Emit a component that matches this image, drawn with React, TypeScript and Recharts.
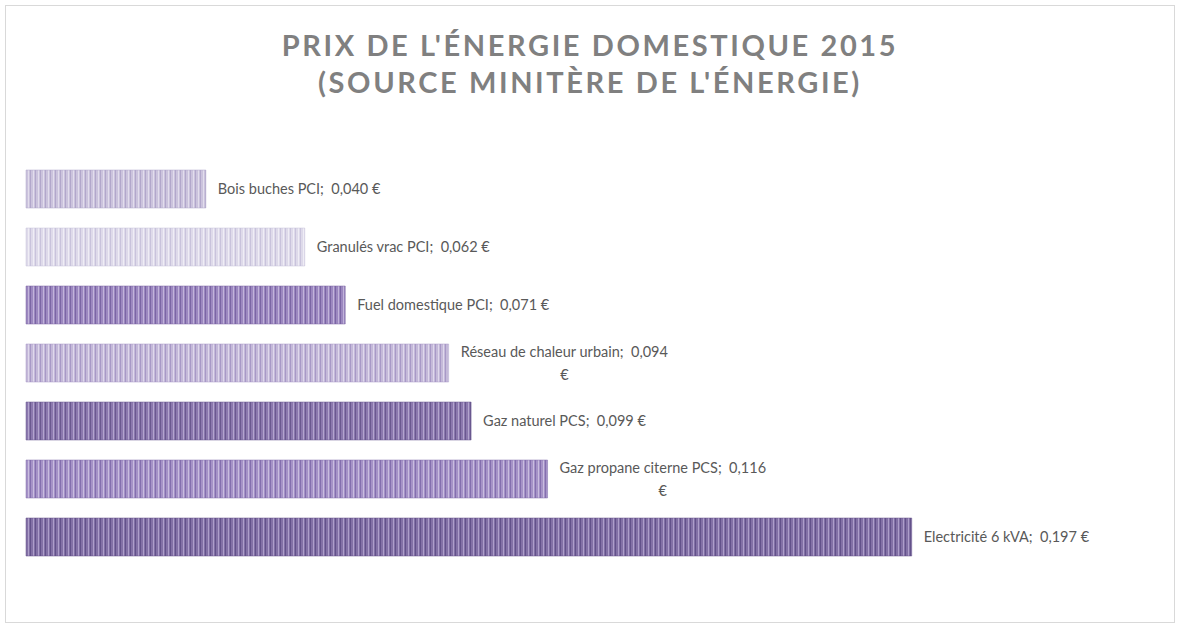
import { Bar, BarChart, Cell, LabelList, XAxis, YAxis } from 'recharts';

const categories = [
  'Bois buches PCI',
  'Granulés vrac PCI',
  'Fuel domestique PCI',
  'Réseau de chaleur urbain',
  'Gaz naturel PCS',
  'Gaz propane citerne PCS',
  'Electricité 6 kVA'
];
const prices = [0.04, 0.062, 0.071, 0.094, 0.099, 0.116, 0.197];

// base / dark stripe / light stripe for each bar
const palettes = [
  ['#cbc3dd', '#b2a7cb', '#e2ddec'],
  ['#dedaea', '#c9c3dc', '#efedf5'],
  ['#9c88c0', '#7b66a4', '#c2b4da'],
  ['#c4b9d9', '#a899c7', '#dfd8ec'],
  ['#8b78ae', '#6a588f', '#b3a5ce'],
  ['#a592c7', '#846fae', '#c9bddf'],
  ['#8371a6', '#63528a', '#ae9fca']
];

const LABEL_SIZE = 14.5;
const MAX_LINE = 205;

const chartData = categories.map((name, i) => ({
  name,
  price: prices[i],
  label: `${name};  ${prices[i].toFixed(3).replace('.', ',')} €`
}));

let ctx: CanvasRenderingContext2D | null = null;
function measure(text: string) {
  if (!ctx) ctx = document.createElement('canvas').getContext('2d');
  if (!ctx) return text.length * 6.6;
  ctx.font = `${LABEL_SIZE}px Lato`;
  return ctx.measureText(text).width;
}

// Excel pushed the trailing "€" to a second line when the label got too wide
function wrap(text: string) {
  if (measure(text) <= MAX_LINE) return [text];
  const cut = text.lastIndexOf(' ');
  return [text.slice(0, cut), text.slice(cut + 1)];
}

function BarLabel(props: any) {
  const { x, y, width, height, value } = props;
  const lines = wrap(String(value));
  const startX = x + width + 12;
  const blockW = Math.max(...lines.map(measure));
  const cy = y + height / 2;
  const lh = 23;
  const top = cy - ((lines.length - 1) * lh) / 2;
  return (
    <text fill="#595959" fontFamily="Lato, sans-serif" fontSize={LABEL_SIZE} style={{ whiteSpace: 'pre' }}>
      {lines.map((l, i) => (
        <tspan
          key={i}
          x={lines.length > 1 ? startX + blockW / 2 : startX}
          y={top + i * lh}
          dy="0.35em"
          textAnchor={lines.length > 1 ? 'middle' : 'start'}
        >
          {l}
        </tspan>
      ))}
    </text>
  );
}

export default function App() {
  return (
    <div style={{ position: 'relative', width: 1180, height: 628, background: '#fff' }}>
      <style>{'body{margin:0}'}</style>
      <div
        style={{
          position: 'absolute',
          left: 5,
          top: 5,
          width: 1168,
          height: 616,
          border: '1px solid #d9d9d9'
        }}
      />
      <div
        style={{
          position: 'absolute',
          left: 0,
          top: 26,
          width: 1180,
          textAlign: 'center',
          fontFamily: 'Lato, sans-serif',
          fontWeight: 700,
          fontSize: 29,
          lineHeight: '37px',
          letterSpacing: 2.6,
          color: '#808080'
        }}
      >
        PRIX DE L'ÉNERGIE DOMESTIQUE 2015
        <br />
        (SOURCE MINITÈRE DE L'ÉNERGIE)
      </div>
      <BarChart
        width={1180}
        height={628}
        data={chartData}
        layout="vertical"
        margin={{ top: 160, right: 30, bottom: 62, left: 26 }}
        barCategoryGap={10}
        style={{ position: 'absolute', left: 0, top: 0 }}
      >
        <defs>
          {palettes.map(([base, dark, light], i) => (
            <pattern key={i} id={`stripes-${i}`} width={5} height={8} patternUnits="userSpaceOnUse">
              <rect width={5} height={8} fill={base} />
              <rect x={0} width={1} height={8} fill={dark} />
              <rect x={3} width={1} height={8} fill={light} />
            </pattern>
          ))}
        </defs>
        <XAxis type="number" domain={[0, 0.25]} hide />
        <YAxis type="category" dataKey="name" hide />
        <Bar dataKey="price" isAnimationActive={false}>
          {chartData.map((d, i) => (
            <Cell
              key={d.name}
              fill={`url(#stripes-${i})`}
              stroke={palettes[i][1]}
              strokeOpacity={0.5}
              strokeWidth={1}
            />
          ))}
          <LabelList dataKey="label" content={BarLabel} />
        </Bar>
      </BarChart>
    </div>
  );
}
